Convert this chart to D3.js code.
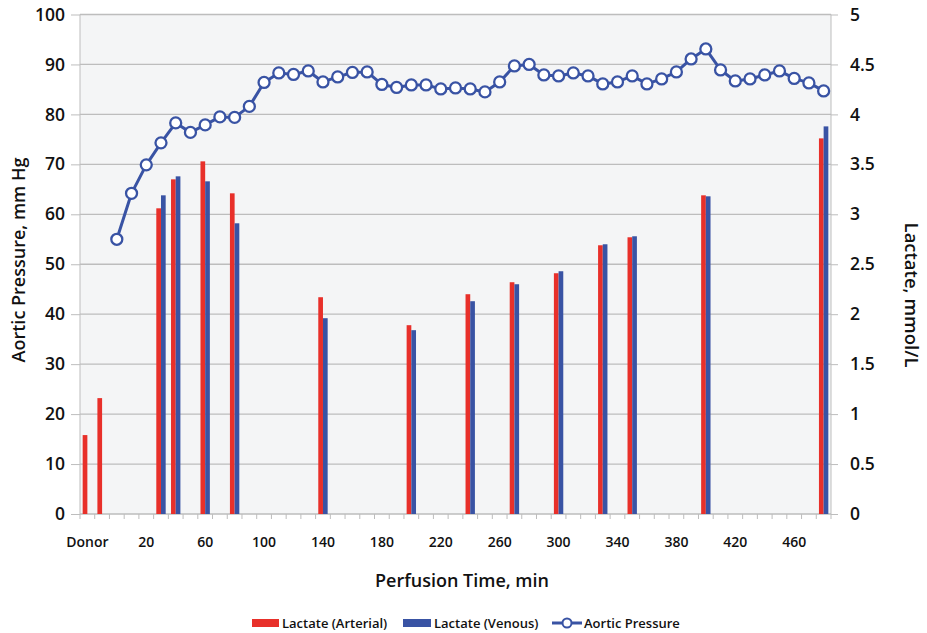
<!DOCTYPE html>
<html>
<head>
<meta charset="utf-8">
<script src="https://cdn.jsdelivr.net/npm/d3@7"></script>
<style>
  body { margin: 0; background: #fff; }
  text { font-family: "Open Sans", "Noto Sans", sans-serif; fill: #111; }
</style>
</head>
<body>
<svg id="chart" width="927" height="633"></svg>
<script>
// x categories, 10-min slots after two donor samples
var categories = ["Donor", "Donor 2", "0", "10", "20", "30", "40", "50", "60", "70", "80", "90",
  "100", "110", "120", "130", "140", "150", "160", "170", "180", "190", "200", "210", "220",
  "230", "240", "250", "260", "270", "280", "290", "300", "310", "320", "330", "340", "350",
  "360", "370", "380", "390", "400", "410", "420", "430", "440", "450", "460", "470", "480"];

var tickLabels = ["Donor", "20", "60", "100", "140", "180", "220", "260", "300", "340", "380", "420", "460"];

// lactate samples (mmol/L)
var sampleTimes = ["Donor", "Donor 2", "30", "40", "60", "80", "140", "200", "240", "270", "300", "330", "350", "400", "480"];
var lactateArterial = [0.79, 1.16, 3.06, 3.35, 3.53, 3.21, 2.17, 1.89, 2.20, 2.32, 2.41, 2.69, 2.77, 3.19, 3.76];
var lactateVenous   = [null, null, 3.19, 3.38, 3.33, 2.91, 1.96, 1.84, 2.13, 2.30, 2.43, 2.70, 2.78, 3.18, 3.88];

// aortic pressure (mm Hg), from 0 to 480 min
var pressureTimes = categories.slice(2);
var aorticPressure = [55.0, 64.2, 69.9, 74.3, 78.3, 76.4, 77.9, 79.5, 79.4, 81.6, 86.4, 88.3, 88.0,
  88.7, 86.5, 87.5, 88.4, 88.5, 86.0, 85.4, 85.9, 85.9, 85.1, 85.3, 85.1, 84.5, 86.5, 89.7, 90.0,
  87.9, 87.7, 88.3, 87.7, 86.1, 86.5, 87.7, 86.1, 87.1, 88.5, 91.1, 93.1, 88.9, 86.7, 87.1, 87.9,
  88.7, 87.2, 86.3, 84.7];

var plotLeft = 80, plotRight = 831, plotTop = 14.5, plotBottom = 514;
var red = "#e8302a", blue = "#3953a4", grid = "#bdbdbd";

var svg = d3.select("#chart");

var x = d3.scaleBand().domain(categories).range([plotLeft, plotRight]).padding(0);
var xs = d3.scaleBand().domain(["a", "v"]).range([0, x.bandwidth()]).paddingOuter(0.57).paddingInner(0);
var yL = d3.scaleLinear().domain([0, 100]).range([plotBottom, plotTop]);
var yR = d3.scaleLinear().domain([0, 5]).range([plotBottom, plotTop]);

// plot background
svg.append("rect").attr("x", plotLeft).attr("y", plotTop)
  .attr("width", plotRight - plotLeft).attr("height", plotBottom - plotTop)
  .attr("fill", "#f4f5f6");

// gridlines
svg.append("g").selectAll("line").data(yL.ticks(10)).join("line")
  .attr("x1", plotLeft).attr("x2", plotRight)
  .attr("y1", d => yL(d)).attr("y2", d => yL(d))
  .attr("stroke", grid).attr("stroke-width", 1.3);

// vertical axis lines
svg.append("line").attr("x1", plotLeft).attr("x2", plotLeft).attr("y1", plotTop).attr("y2", plotBottom).attr("stroke", grid);
svg.append("line").attr("x1", plotRight).attr("x2", plotRight).attr("y1", plotTop).attr("y2", plotBottom).attr("stroke", grid);

// left axis
var gL = svg.append("g").attr("transform", "translate(" + plotLeft + ",0)")
  .call(d3.axisLeft(yL).ticks(10).tickSize(9).tickPadding(6));
gL.select(".domain").remove();
gL.selectAll(".tick line").attr("stroke", grid);
gL.selectAll(".tick text").style("font-size", "17.5px").style("font-weight", 600).attr("fill", "#111");

// right axis
var gR = svg.append("g").attr("transform", "translate(" + plotRight + ",0)")
  .call(d3.axisRight(yR).ticks(10).tickSize(7).tickPadding(12).tickFormat(d => String(d)));
gR.select(".domain").remove();
gR.selectAll(".tick line").attr("stroke", grid);
gR.selectAll(".tick text").style("font-size", "17.5px").style("font-weight", 600).attr("fill", "#111");

// x ticks at category boundaries
var bounds = categories.map(c => x(c)).concat([plotRight]);
svg.append("g").selectAll("line").data(bounds).join("line")
  .attr("x1", d => d).attr("x2", d => d).attr("y1", plotBottom).attr("y2", plotBottom + 5)
  .attr("stroke", grid);

// x labels
var labelCats = categories.filter(c => tickLabels.indexOf(c) !== -1);
var gX = svg.append("g").attr("transform", "translate(0," + plotBottom + ")")
  .call(d3.axisBottom(x).tickValues(labelCats).tickSize(0).tickPadding(23));
gX.select(".domain").remove();
gX.selectAll(".tick text").style("font-size", "14px").style("font-weight", 600).attr("fill", "#111");

// lactate bars
var bars = sampleTimes.map((t, i) => ({ t: t, a: lactateArterial[i], v: lactateVenous[i] }));
svg.append("g").selectAll("rect").data(bars.filter(d => d.a != null)).join("rect")
  .attr("x", d => x(d.t) + xs("a")).attr("width", xs.bandwidth())
  .attr("y", d => yR(d.a)).attr("height", d => plotBottom - yR(d.a))
  .attr("fill", red);
svg.append("g").selectAll("rect").data(bars.filter(d => d.v != null)).join("rect")
  .attr("x", d => x(d.t) + xs("v")).attr("width", xs.bandwidth())
  .attr("y", d => yR(d.v)).attr("height", d => plotBottom - yR(d.v))
  .attr("fill", blue);

// aortic pressure line
var pts = pressureTimes.map((t, i) => ({ t: t, p: aorticPressure[i] }));
var line = d3.line().x(d => x(d.t) + x.bandwidth() / 2).y(d => yL(d.p));
svg.append("path").datum(pts).attr("d", line)
  .attr("fill", "none").attr("stroke", blue).attr("stroke-width", 3).attr("stroke-linejoin", "round");
svg.append("g").selectAll("circle").data(pts).join("circle")
  .attr("cx", d => x(d.t) + x.bandwidth() / 2).attr("cy", d => yL(d.p))
  .attr("r", 5.5).attr("fill", "#fff").attr("stroke", blue).attr("stroke-width", 2.3);

// axis titles
svg.append("text").attr("transform", "translate(25,260) rotate(-90)").attr("text-anchor", "middle")
  .style("font-size", "18px").style("font-weight", 600).text("Aortic Pressure, mm Hg");
svg.append("text").attr("transform", "translate(905,295) rotate(90)").attr("text-anchor", "middle")
  .style("font-size", "18.5px").style("font-weight", 600).text("Lactate, mmol/L");
svg.append("text").attr("x", 462).attr("y", 587).attr("text-anchor", "middle")
  .style("font-size", "18px").style("font-weight", 600).text("Perfusion Time, min");

// legend
var lg = svg.append("g").attr("transform", "translate(0,623)");
lg.append("rect").attr("x", 252).attr("y", -4).attr("width", 27).attr("height", 8).attr("fill", red);
lg.append("text").attr("x", 282).attr("y", 4.5).style("font-size", "13px").style("font-weight", 600).text("Lactate (Arterial)");
lg.append("rect").attr("x", 403).attr("y", -4).attr("width", 28).attr("height", 8).attr("fill", blue);
lg.append("text").attr("x", 434).attr("y", 4.5).style("font-size", "13px").style("font-weight", 600).text("Lactate (Venous)");
lg.append("line").attr("x1", 552).attr("x2", 582).attr("y1", 0).attr("y2", 0).attr("stroke", blue).attr("stroke-width", 3);
lg.append("circle").attr("cx", 567).attr("cy", 0).attr("r", 4.5).attr("fill", "#fff").attr("stroke", blue).attr("stroke-width", 2);
lg.append("text").attr("x", 584).attr("y", 4.5).style("font-size", "13px").style("font-weight", 600).text("Aortic Pressure");
</script>
</body>
</html>
